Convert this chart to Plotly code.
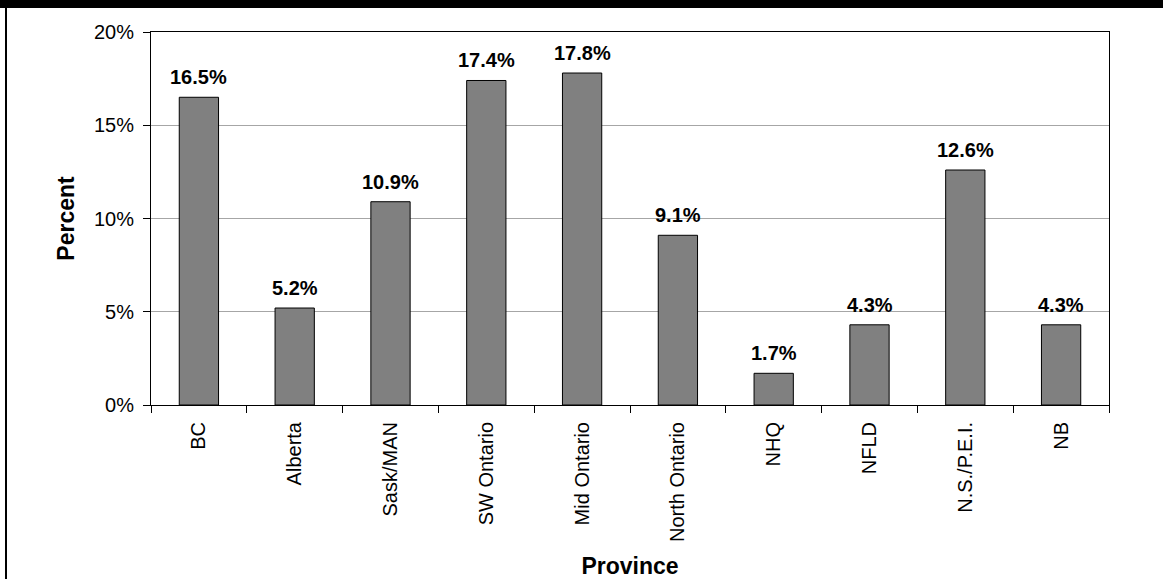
import plotly.graph_objects as go

provinces = ["BC", "Alberta", "Sask/MAN", "SW Ontario", "Mid Ontario",
             "North Ontario", "NHQ", "NFLD", "N.S./P.E.I.", "NB"]
percent = [16.5, 5.2, 10.9, 17.4, 17.8, 9.1, 1.7, 4.3, 12.6, 4.3]
y_ticks = [0, 5, 10, 15, 20]

FONT = "Liberation Sans, Arial, sans-serif"

fig = go.Figure()
fig.add_trace(go.Bar(
    x=provinces, y=percent,
    marker=dict(color="#808080", line=dict(color="#000000", width=1)),
    hoverinfo="skip",
))

for p, v in zip(provinces, percent):
    fig.add_annotation(x=p, y=v, text=f"<b>{v:.1f}%</b>", showarrow=False,
                       yanchor="bottom", yshift=7,
                       font=dict(family=FONT, size=20, color="#000000"))

fig.update_layout(
    width=1163, height=579,
    margin=dict(l=151, r=54, t=32, b=174),
    paper_bgcolor="#ffffff", plot_bgcolor="#ffffff",
    bargap=0.59,
    showlegend=False,
    font=dict(family=FONT, color="#000000"),
    shapes=[
        dict(type="rect", xref="paper", yref="paper",
             x0=-151/958, x1=1012/958, y0=1+24/373, y1=1+32/373,
             fillcolor="#000000", line=dict(width=0), layer="above"),
        dict(type="rect", xref="paper", yref="paper",
             x0=-146/958, x1=-144/958, y0=-174/373, y1=1+24/373,
             fillcolor="#000000", line=dict(width=0), layer="above"),
    ],
)

fig.update_xaxes(
    type="category",
    automargin=False,
    tickangle=-90,
    tickfont=dict(family=FONT, size=20, color="#000000"),
    ticks="outside", tickson="boundaries", ticklen=7, tickcolor="#000000",
    ticklabelstandoff=8,
    showline=True, linecolor="#000000", linewidth=1, mirror=True,
    showgrid=False,
    title=dict(text="<b>Province</b>", font=dict(family=FONT, size=23, color="#000000"),
               standoff=18),
)
fig.update_yaxes(
    range=[0, 20],
    automargin=False,
    tickvals=y_ticks, ticktext=[f"{t}%" for t in y_ticks],
    tickfont=dict(family=FONT, size=20, color="#000000"),
    ticks="outside", ticklen=7, tickcolor="#000000",
    ticklabelstandoff=5,
    showline=True, linecolor="#000000", linewidth=1, mirror=True,
    showgrid=True, gridcolor="#a6a6a6", gridwidth=1,
    zeroline=False,
    title=dict(text="<b>Percent</b>", font=dict(family=FONT, size=23, color="#000000"),
               standoff=12),
)

fig.write_html("out.html")
